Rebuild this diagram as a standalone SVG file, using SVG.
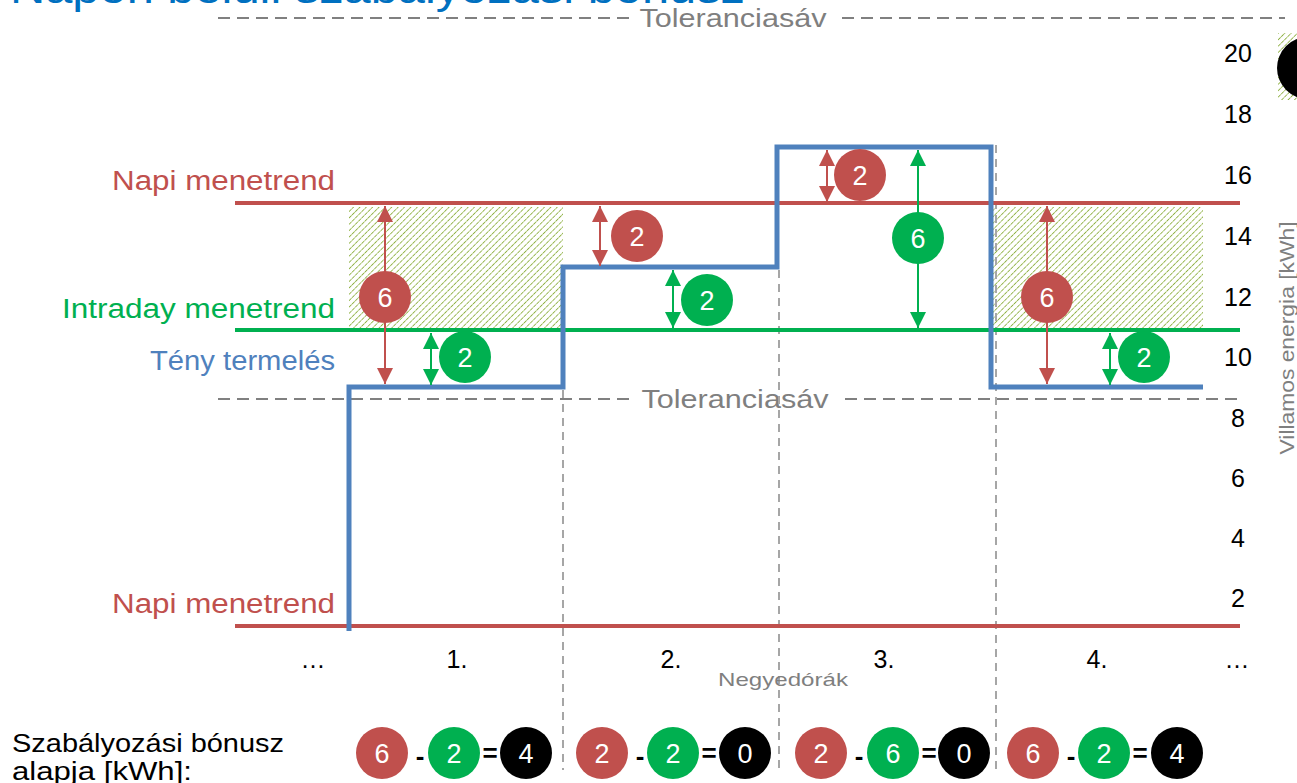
<svg xmlns="http://www.w3.org/2000/svg" width="1297" height="783" viewBox="0 0 1297 783">
<style>
text{font-family:"Liberation Sans",Arial,sans-serif}
.tol{stroke:#808080;stroke-width:2;stroke-dasharray:12 7;fill:none}
.vd{stroke:#a6a6a6;stroke-width:2;stroke-dasharray:8 6;fill:none}
.tl{fill:#7f7f7f;font-size:25px;text-anchor:middle}
.ax{fill:#000;font-size:25px;text-anchor:middle}
.cn{fill:#fff;font-size:27px;text-anchor:middle}
.op{fill:#000;font-size:26px;font-weight:bold;text-anchor:middle}
.red{fill:#c0504d}.grn{fill:#00b050}.blk{fill:#000}
.ra{stroke:#c0504d;stroke-width:2;fill:none;marker-start:url(#rh);marker-end:url(#rh)}
.ga{stroke:#00b050;stroke-width:2;fill:none;marker-start:url(#gh);marker-end:url(#gh)}
</style>
<defs>
<pattern id="hatch" width="4.5" height="4.5" patternUnits="userSpaceOnUse" patternTransform="rotate(45)">
<line x1="0" y1="0" x2="0" y2="4.5" stroke="#8fb143" stroke-width="1.8" stroke-dasharray="2.2 0.8"/>
</pattern>
<marker id="rh" viewBox="0 0 10 10" refX="10" refY="5" markerWidth="8" markerHeight="8" orient="auto-start-reverse"><path d="M0,0L10,5L0,10z" fill="#c0504d"/></marker>
<marker id="gh" viewBox="0 0 10 10" refX="10" refY="5" markerWidth="8" markerHeight="8" orient="auto-start-reverse"><path d="M0,0L10,5L0,10z" fill="#00b050"/></marker>
</defs>
<rect width="1297" height="783" fill="#fff"/>
<text x="10" y="3" fill="#0070c0" font-size="42" textLength="735" lengthAdjust="spacingAndGlyphs">Napon belüli szabályozási bónusz</text>

<g id="hatched-areas">
<rect x="349" y="207" width="214" height="121" fill="url(#hatch)"/>
<rect x="993" y="207" width="210" height="121" fill="url(#hatch)"/>
</g>

<g id="legend">
<rect x="1278" y="33" width="19" height="67" fill="url(#hatch)"/>
<circle cx="1308" cy="68" r="31" fill="#000"/>
</g>

<g id="tolerance">
<line class="tol" x1="218" y1="18" x2="630" y2="18"/>
<text class="tl" x="733" y="27" textLength="187" lengthAdjust="spacingAndGlyphs">Toleranciasáv</text>
<line class="tol" x1="842" y1="18" x2="1285" y2="18"/>
<line class="tol" x1="218" y1="399" x2="630" y2="399"/>
<text class="tl" x="735" y="408" textLength="187" lengthAdjust="spacingAndGlyphs">Toleranciasáv</text>
<line class="tol" x1="845" y1="399" x2="1240" y2="399"/>
</g>

<g id="grid">
<line class="vd" x1="563" y1="390" x2="563" y2="770"/>
<line class="vd" x1="779" y1="270" x2="779" y2="770"/>
<line class="vd" x1="996" y1="145" x2="996" y2="770"/>
</g>

<g id="schedules">
<line x1="235" y1="203" x2="1240" y2="203" stroke="#c0504d" stroke-width="4"/>
<line x1="235" y1="330" x2="1240" y2="330" stroke="#00b050" stroke-width="4"/>
<line x1="235" y1="626" x2="1240" y2="626" stroke="#c0504d" stroke-width="4"/>
<polyline points="349,631 349,387 563,387 563,267 777,267 777,147 991,147 991,387 1203,387" fill="none" stroke="#4f81bd" stroke-width="5"/>
</g>

<g id="labels">
<text x="335" y="190" fill="#c0504d" font-size="27" text-anchor="end" textLength="223" lengthAdjust="spacingAndGlyphs">Napi menetrend</text>
<text x="335" y="318" fill="#00b050" font-size="27" text-anchor="end" textLength="273" lengthAdjust="spacingAndGlyphs">Intraday menetrend</text>
<text x="335" y="370" fill="#4f81bd" font-size="27" text-anchor="end" textLength="185" lengthAdjust="spacingAndGlyphs">Tény termelés</text>
<text x="335" y="613" fill="#c0504d" font-size="27" text-anchor="end" textLength="223" lengthAdjust="spacingAndGlyphs">Napi menetrend</text>
</g>

<g id="y-axis">
<text class="ax" x="1238" y="62">20</text>
<text class="ax" x="1238" y="123">18</text>
<text class="ax" x="1238" y="184">16</text>
<text class="ax" x="1238" y="245">14</text>
<text class="ax" x="1238" y="306">12</text>
<text class="ax" x="1238" y="366">10</text>
<text class="ax" x="1238" y="427">8</text>
<text class="ax" x="1238" y="487">6</text>
<text class="ax" x="1238" y="547">4</text>
<text class="ax" x="1238" y="607">2</text>
<text x="1295" y="338" fill="#7f7f7f" font-size="21" text-anchor="middle" transform="rotate(-90 1295 338)" dy="-1" textLength="233" lengthAdjust="spacingAndGlyphs">Villamos energia [kWh]</text>
</g>

<g id="x-axis">
<text class="ax" x="313" y="668">…</text>
<text class="ax" x="457" y="668">1.</text>
<text class="ax" x="671" y="668">2.</text>
<text class="ax" x="884" y="668">3.</text>
<text class="ax" x="1097" y="668">4.</text>
<text class="ax" x="1237" y="668">…</text>
<text x="783" y="686" fill="#7f7f7f" font-size="19" text-anchor="middle" textLength="130" lengthAdjust="spacingAndGlyphs">Negyedórák</text>
</g>

<g id="connectors">
<line class="ra" x1="385" y1="206" x2="385" y2="384"/>
<line class="ga" x1="431" y1="333" x2="431" y2="385"/>
<line class="ra" x1="600" y1="206" x2="600" y2="266"/>
<line class="ga" x1="673" y1="270" x2="673" y2="328"/>
<line class="ra" x1="827" y1="150" x2="827" y2="202"/>
<line class="ga" x1="918" y1="150" x2="918" y2="328"/>
<line class="ra" x1="1047" y1="206" x2="1047" y2="384"/>
<line class="ga" x1="1110" y1="333" x2="1110" y2="385"/>
</g>

<g id="badges">
<circle class="red" cx="385" cy="297" r="26"/><text class="cn" x="385" y="307">6</text>
<circle class="grn" cx="465" cy="357" r="26"/><text class="cn" x="465" y="367">2</text>
<circle class="red" cx="637" cy="236" r="26"/><text class="cn" x="637" y="246">2</text>
<circle class="grn" cx="707" cy="300" r="26"/><text class="cn" x="707" y="310">2</text>
<circle class="red" cx="860" cy="175" r="26"/><text class="cn" x="860" y="185">2</text>
<circle class="grn" cx="918" cy="238" r="26"/><text class="cn" x="918" y="248">6</text>
<circle class="red" cx="1047" cy="297" r="26"/><text class="cn" x="1047" y="307">6</text>
<circle class="grn" cx="1144" cy="357" r="26"/><text class="cn" x="1144" y="367">2</text>
</g>

<g id="bonus">
<text x="12" y="752" font-size="25" fill="#000" textLength="272" lengthAdjust="spacingAndGlyphs">Szabályozási bónusz</text>
<text x="12" y="780" font-size="25" fill="#000" textLength="180" lengthAdjust="spacingAndGlyphs">alapja [kWh]:</text>
<g id="f1">
<circle class="red" cx="382" cy="753" r="26"/><text class="cn" x="382" y="763">6</text>
<text class="op" x="420" y="765">-</text>
<circle class="grn" cx="454" cy="753" r="26"/><text class="cn" x="454" y="763">2</text>
<text class="op" x="490" y="762">=</text>
<circle class="blk" cx="526" cy="753" r="26"/><text class="cn" x="526" y="763">4</text>
</g>
<g id="f2">
<circle class="red" cx="602" cy="753" r="26"/><text class="cn" x="602" y="763">2</text>
<text class="op" x="640" y="765">-</text>
<circle class="grn" cx="673" cy="753" r="26"/><text class="cn" x="673" y="763">2</text>
<text class="op" x="709" y="762">=</text>
<circle class="blk" cx="745" cy="753" r="26"/><text class="cn" x="745" y="763">0</text>
</g>
<g id="f3">
<circle class="red" cx="821" cy="753" r="26"/><text class="cn" x="821" y="763">2</text>
<text class="op" x="859" y="765">-</text>
<circle class="grn" cx="893" cy="753" r="26"/><text class="cn" x="893" y="763">6</text>
<text class="op" x="929" y="762">=</text>
<circle class="blk" cx="964" cy="753" r="26"/><text class="cn" x="964" y="763">0</text>
</g>
<g id="f4">
<circle class="red" cx="1033" cy="753" r="26"/><text class="cn" x="1033" y="763">6</text>
<text class="op" x="1071" y="765">-</text>
<circle class="grn" cx="1104" cy="753" r="26"/><text class="cn" x="1104" y="763">2</text>
<text class="op" x="1140" y="762">=</text>
<circle class="blk" cx="1177" cy="753" r="26"/><text class="cn" x="1177" y="763">4</text>
</g>
</g>
</svg>
